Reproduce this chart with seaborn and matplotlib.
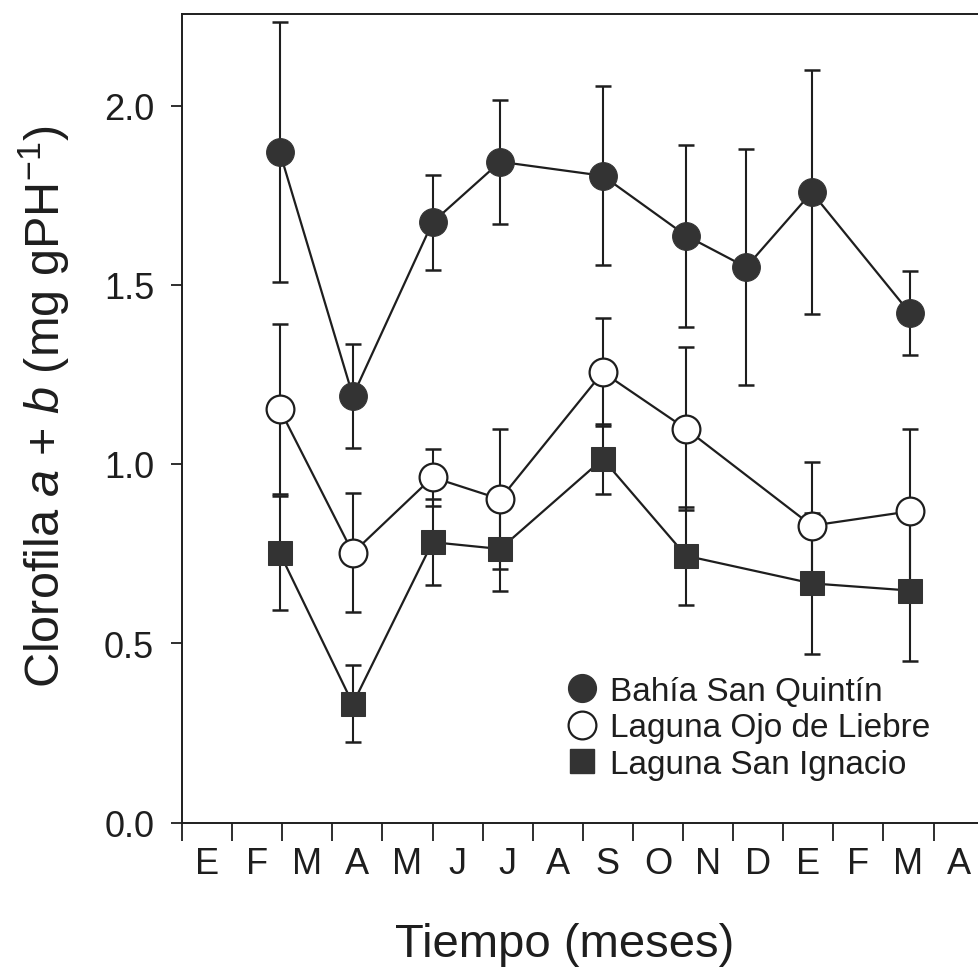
import matplotlib
matplotlib.use("Agg")
import matplotlib.pyplot as plt
import numpy as np
import pandas as pd
import seaborn as sns
from matplotlib.lines import Line2D

# ---------------- data ----------------
months = ["E", "F", "M", "A", "M", "J", "J", "A", "S", "O", "N", "D", "E", "F", "M", "A"]
yticks = [0.0, 0.5, 1.0, 1.5, 2.0]

# sampling times in months since start of January (first E)
t_quintin = [1.95, 3.41, 5.00, 6.35, 8.40, 10.06, 11.26, 12.57, 14.53]
quintin_mean = [1.871, 1.190, 1.674, 1.843, 1.804, 1.637, 1.549, 1.758, 1.421]
quintin_err = [0.362, 0.144, 0.132, 0.173, 0.250, 0.254, 0.330, 0.340, 0.118]

t_ojo = [1.95, 3.41, 5.00, 6.35, 8.40, 10.06, 12.57, 14.53]
ojo_mean = [1.153, 0.752, 0.963, 0.902, 1.256, 1.098, 0.828, 0.868]
ojo_err = [0.237, 0.166, 0.079, 0.195, 0.150, 0.227, 0.178, 0.230]

t_ignacio = [1.95, 3.41, 5.00, 6.35, 8.40, 10.06, 12.57, 14.53]
ignacio_mean = [0.752, 0.331, 0.782, 0.763, 1.014, 0.744, 0.667, 0.647]
ignacio_err = [0.160, 0.107, 0.120, 0.118, 0.097, 0.137, 0.197, 0.196]

sites = ["Bahía San Quintín", "Laguna Ojo de Liebre", "Laguna San Ignacio"]

df = pd.concat([
    pd.DataFrame({"site": sites[0], "t": t_quintin, "mean": quintin_mean, "err": quintin_err}),
    pd.DataFrame({"site": sites[1], "t": t_ojo, "mean": ojo_mean, "err": ojo_err}),
    pd.DataFrame({"site": sites[2], "t": t_ignacio, "mean": ignacio_mean, "err": ignacio_err}),
], ignore_index=True)

# ---------------- style ----------------
sns.set_style("ticks")
plt.rcParams["font.family"] = ["Liberation Sans", "DejaVu Sans"]
plt.rcParams["mathtext.fontset"] = "custom"
plt.rcParams["mathtext.rm"] = "Liberation Sans"
plt.rcParams["mathtext.it"] = "Liberation Sans:italic"
ink = "#1e1e1e"
fill = "#333333"

W = H = 979
fig = plt.figure(figsize=(W / 100, H / 100), dpi=100)
left_px, bottom_px, top_px = 182, 823.5, 15
px_per_month = 50.1
axw_px = W - left_px + 10
axh_px = bottom_px - top_px
ax = fig.add_axes([left_px / W, 1 - bottom_px / H, axw_px / W, axh_px / H])

styles = {
    sites[0]: dict(marker="o", markersize=20, markerfacecolor=fill, markeredgecolor=fill, zorder=5),
    sites[1]: dict(marker="o", markersize=20, markerfacecolor="white", markeredgecolor=ink,
                   markeredgewidth=1.6, zorder=4),
    sites[2]: dict(marker="s", markersize=17, markerfacecolor=fill, markeredgecolor=fill, zorder=3),
}

for s in sites:
    sub = df[df["site"] == s]
    ax.errorbar(sub["t"], sub["mean"], yerr=sub["err"], fmt="none", ecolor=ink,
                elinewidth=1.5, capsize=6, capthick=1.8, zorder=1)
    sns.lineplot(data=sub, x="t", y="mean", ax=ax, color=ink, linewidth=1.6,
                 sort=True, legend=False, **styles[s])

# axes limits & ticks
ax.set_xlim(0, axw_px / px_per_month)
ax.set_ylim(0, axh_px / 358.5)
ax.set_yticks(yticks)
ax.set_yticklabels([f"{v:.1f}" for v in yticks])
ax.set_xticks(np.arange(0, 16))
ax.set_xticklabels([])
ax.set_xticks(np.arange(len(months)) + 0.5, minor=True)
ax.set_xticklabels(months, minor=True)
ax.tick_params(axis="x", which="major", direction="out", length=13, width=1.3, color=ink)
ax.tick_params(axis="x", which="minor", length=0, pad=17, labelsize=26, labelcolor=ink)
ax.tick_params(axis="y", which="major", direction="out", length=8, width=1.3, color=ink,
               pad=12, labelsize=26, labelcolor=ink)

for sp in ["left", "bottom", "top"]:
    ax.spines[sp].set_linewidth(1.4)
    ax.spines[sp].set_color(ink)
ax.spines["right"].set_visible(False)

ax.set_xlabel("Tiempo (meses)", fontsize=34, color=ink, va="center")
ax.xaxis.set_label_coords((565 - left_px) / axw_px, -(945 - bottom_px) / axh_px)
ax.set_ylabel(r"Clorofila $a$ + $b$ (mg gPH$^{\mathregular{-1}}$)", fontsize=35, color=ink,
              va="center")
ax.yaxis.set_label_coords(-(left_px - 44) / axw_px, (bottom_px - 407) / axh_px)

# legend
handles = [
    Line2D([], [], linestyle="none", marker="o", markersize=20, markerfacecolor=fill, markeredgecolor=fill),
    Line2D([], [], linestyle="none", marker="o", markersize=20, markerfacecolor="white",
           markeredgecolor=ink, markeredgewidth=1.6),
    Line2D([], [], linestyle="none", marker="s", markersize=17, markerfacecolor=fill, markeredgecolor=fill),
]
leg = ax.legend(handles, sites, loc="upper left",
                bbox_to_anchor=((567 - left_px) / axw_px, (bottom_px - 677) / axh_px),
                frameon=False, fontsize=24, handlelength=0.9, handletextpad=0.38,
                labelspacing=0.16, borderpad=0, borderaxespad=0)
for t in leg.get_texts():
    t.set_color(ink)

fig.savefig("out.png", dpi=100)
